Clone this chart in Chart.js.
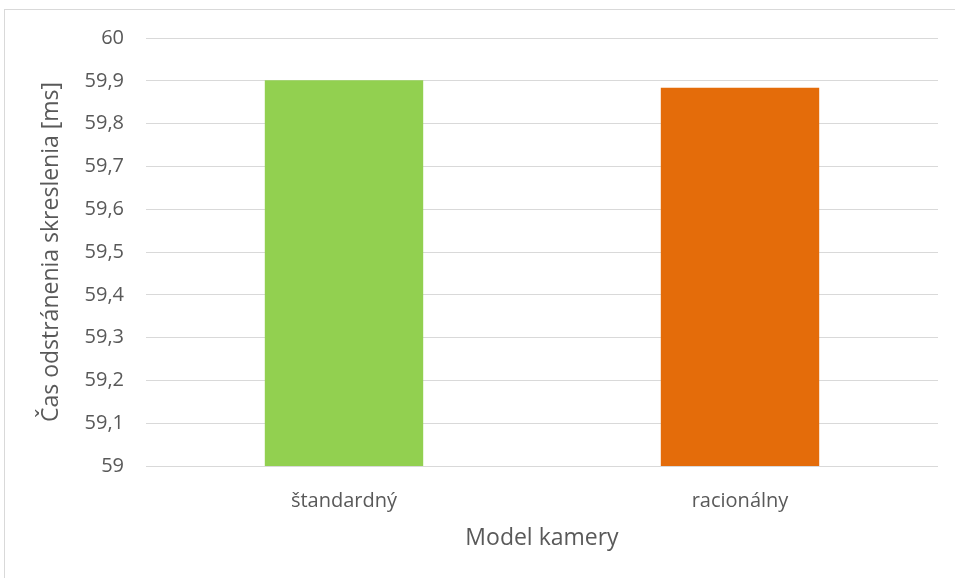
<!DOCTYPE html>
<html>
<head>
<meta charset="utf-8">
<script src="https://cdn.jsdelivr.net/npm/chart.js"></script>
<style>
  body { margin: 0; background: #fff; overflow: hidden; }
  #frame { position: absolute; left: 4px; top: 9px; width: 1000px; height: 1000px; border: 1px solid #d9d9d9; }
  #wrap { position: absolute; left: 0; top: 0; width: 955px; height: 578px; }
</style>
</head>
<body>
<div id="frame"></div>
<div id="wrap"><canvas id="chart"></canvas></div>
<script>
// data
const categories = ['štandardný', 'racionálny'];
const values = [59.901, 59.884];
const barColors = ['#92d050', '#e46c0a'];
const yTickLabels = ['59', '59,1', '59,2', '59,3', '59,4', '59,5', '59,6', '59,7', '59,8', '59,9', '60'];

const textColor = '#595959';
const fontFamily = '"Open Sans", sans-serif';

new Chart(document.getElementById('chart').getContext('2d'), {
    type: 'bar',
    data: {
        labels: categories,
        datasets: [{
            data: values,
            backgroundColor: barColors,
            barPercentage: 0.4,
            categoryPercentage: 1
        }]
    },
    options: {
        responsive: true,
        maintainAspectRatio: false,
        animation: false,
        layout: { padding: { top: 38, right: 17, bottom: 0, left: 0 } },
        plugins: { legend: { display: false }, tooltip: { enabled: false } },
        scales: {
            x: {
                grid: { display: false },
                border: { display: false },
                ticks: { color: textColor, font: { family: fontFamily, size: 20 }, padding: 15 },
                title: { display: true, text: 'Model kamery', color: textColor, font: { family: fontFamily, size: 23 }, padding: { top: 0, bottom: 26 } },
                afterFit: function (axis) { axis.height = 112; }
            },
            y: {
                min: 59,
                max: 60,
                ticks: {
                    stepSize: 0.1,
                    color: textColor,
                    font: { family: fontFamily, size: 20 },
                    padding: 22,
                    callback: function (value, index) { return yTickLabels[index]; }
                },
                grid: { color: '#d9d9d9', lineWidth: 1, drawTicks: false },
                border: { display: false },
                title: { display: true, text: 'Čas odstránenia skreslenia [ms]', color: textColor, font: { family: fontFamily, size: 23 }, padding: { top: 38, bottom: 0 } },
                afterFit: function (axis) { axis.width = 146; }
            }
        }
    }
});
</script>
</body>
</html>
